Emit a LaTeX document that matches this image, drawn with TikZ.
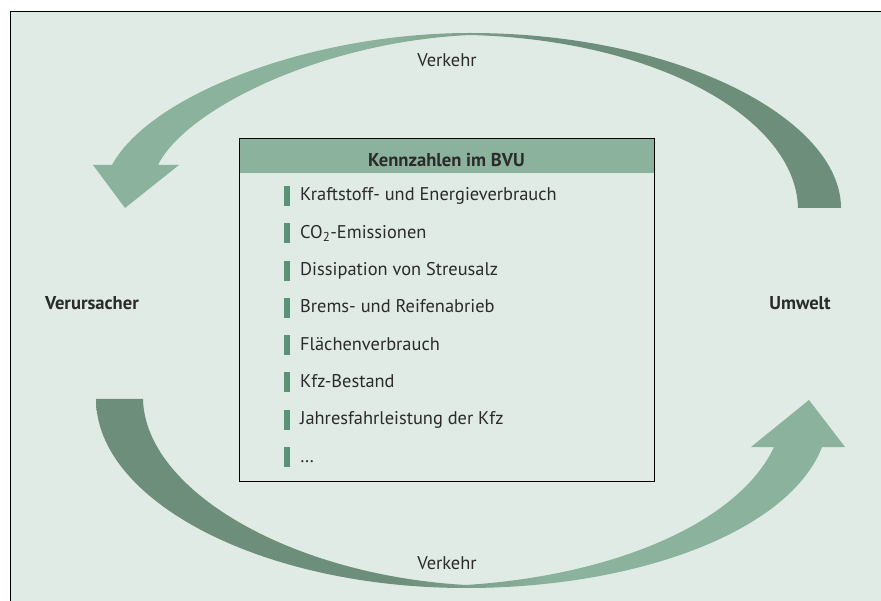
\documentclass[tikz,border=0pt]{standalone}
\usepackage{fontspec}
\setmainfont{PT Sans}
\usetikzlibrary{positioning}

\definecolor{grund}{HTML}{E0EBE5}
\definecolor{hell}{HTML}{8AB29C}
\definecolor{dunkel}{HTML}{6E8E7C}
\definecolor{balken}{HTML}{5A9277}
\definecolor{schrift}{HTML}{2B2B2B}

\pgfdeclarehorizontalshading{oben}{100bp}{color(0bp)=(hell); color(45bp)=(hell);
    color(55bp)=(dunkel); color(100bp)=(dunkel)}
\pgfdeclarehorizontalshading{unten}{100bp}{color(0bp)=(dunkel); color(45bp)=(dunkel);
    color(55bp)=(hell); color(100bp)=(hell)}

\tikzset{
    eintrag/.style={anchor=base west, inner sep=0pt, text=schrift,
        font=\fontsize{18.4}{21}\selectfont},
    titel/.style={anchor=base, inner sep=0pt, text=schrift,
        font=\fontsize{18.6}{21}\selectfont\bfseries},
    fluss/.style={anchor=base, inner sep=0pt, text=schrift,
        font=\fontsize{18.4}{21}\selectfont},
}

\begin{document}
\begin{tikzpicture}[x=1pt,y=-1pt]
    \useasboundingbox (0,0) rectangle (881,601);
    \begin{scope} % Hintergrund
        \fill[white] (0,0) rectangle (881,601);
        \fill[grund] (10.5,11.5) rectangle (881,601);
        \draw[line width=1.5pt] (10.5,601) -- (10.5,11.5) -- (881,11.5);
    \end{scope}
    \begin{scope} % Pfeil oben
        \shade[shading=oben] (841,208) 
            .. controls (841,120) and (680,33) .. (470,33)
            .. controls (310,33) and (150,95) .. (112,165)
            -- (93,165) -- (125,208) -- (179,165) -- (158,165)
            .. controls (185,110) and (320,42) .. (470,35)
            .. controls (660,40) and (796,120) .. (798,208) -- cycle;
    \end{scope}
    \begin{scope} % Pfeil unten
        \shade[shading=unten] (96,399)
            .. controls (96,500) and (260,588) .. (466,588)
            .. controls (640,588) and (790,530) .. (822,447)
            -- (845,447) -- (809,400) -- (751,447) -- (774,447)
            .. controls (740,520) and (620,575) .. (466,585)
            .. controls (290,575) and (145,490) .. (143,399) -- cycle;
    \end{scope}
    \begin{scope} % Kasten
        \fill[hell] (239,138) rectangle (654,173);
        \node[draw, line width=1.2pt, anchor=north west, inner sep=0pt,
            minimum width=415pt, minimum height=343pt] (kasten) at (239,138) {};
        \node[titel] (kopf) at (446.5,167) {Kennzahlen im BVU};
        \foreach \wort [count=\n] in {Kraftstoff- und Energieverbrauch,
            CO\textsubscript{2}-Emissionen, Dissipation von Streusalz,
            Brems- und Reifenabrieb, Flächenverbrauch, Kfz-Bestand,
            Jahresfahrleistung der Kfz, \dots} {
            \fill[balken] (284,{201+37.3*(\n-1)-15}) rectangle ++(6,20);
            \node[eintrag] (punkt\n) at (300,{201+37.3*(\n-1)}) {\wort};
        }
    \end{scope}
    \begin{scope} % Beschriftung
        \node[titel] (verursacher) at (92,310) {Verursacher};
        \node[titel] (umwelt) at (800,310) {Umwelt};
        \node[fluss] (verkehroben) at (447,67) {Verkehr};
        \node[fluss] (verkehrunten) at (447,569) {Verkehr};
    \end{scope}
\end{tikzpicture}
\end{document}
